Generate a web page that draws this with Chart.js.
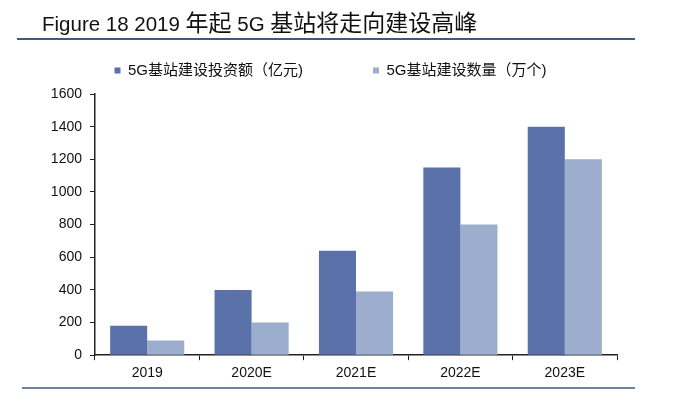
<!DOCTYPE html>
<html>
<head>
<meta charset="utf-8">
<script src="https://cdn.jsdelivr.net/npm/chart.js@4/dist/chart.umd.min.js"></script>
<style>
  html, body { margin: 0; padding: 0; background: #fff; }
  #wrap { position: relative; width: 678px; height: 398px; }
</style>
</head>
<body>
<div id="wrap"><canvas id="myChart" width="678" height="398"></canvas></div>
<script>
// title pieces: latin runs and cjk runs get slightly different sizes like the original
const titleParts = ["Figure 18 2019 ", "年起", " 5G ", "基站将走向建设高峰"];
const years = ["2019", "2020E", "2021E", "2022E", "2023E"];
const investment = [180, 400, 640, 1150, 1400];
const stations = [90, 200, 390, 800, 1200];
const seriesNames = ["5G基站建设投资额（亿元)", "5G基站建设数量（万个)"];

const fontFamily = "'Liberation Sans', Arial, 'Noto Sans CJK SC', sans-serif";

// title + the two blue rules
const frame = {
  id: "frame",
  afterDraw(chart) {
    const c = chart.ctx;
    c.save();
    c.fillStyle = "#111";
    c.textBaseline = "alphabetic";
    let x = 42;
    titleParts.forEach(function (part, i) {
      c.font = (i % 2 === 1 ? "23px " : "20.5px ") + fontFamily;
      c.fillText(part, x, 31);
      x += c.measureText(part).width;
    });
    c.strokeStyle = "#3e5a7e";
    c.lineWidth = 2;
    c.beginPath();
    c.moveTo(17, 39);
    c.lineTo(635, 39);
    c.stroke();
    c.lineWidth = 1.5;
    c.beginPath();
    c.moveTo(22, 388);
    c.lineTo(635, 388);
    c.stroke();
    c.restore();
  }
};

const ctx = document.getElementById("myChart");

new Chart(ctx, {
  type: "bar",
  data: {
    labels: years,
    datasets: [{
      label: seriesNames[0],
      data: investment,
      backgroundColor: "#5a72a9"
    }, {
      label: seriesNames[1],
      data: stations,
      backgroundColor: "#9dadcd"
    }]
  },
  options: {
    responsive: false,
    animation: false,
    layout: { padding: { left: 44, right: 61, top: -7, bottom: 11 } },
    categoryPercentage: 0.71,
    barPercentage: 1,
    plugins: {
      tooltip: { enabled: false },
      // empty spacer between legend and plot
      subtitle: {
        display: true,
        text: "",
        weight: 500,
        padding: 0,
        font: { size: 6, lineHeight: 1 }
      },
      legend: {
        labels: {
          boxWidth: 6,
          boxHeight: 6,
          padding: 70,
          color: "#111",
          font: { size: 15, family: fontFamily }
        }
      }
    },
    scales: {
      x: {
        grid: { display: true, drawOnChartArea: false, offset: true, tickLength: 5, color: "#222" },
        border: { color: "#222", width: 1.5 },
        ticks: { color: "#111", font: { size: 14, family: fontFamily }, padding: 5 }
      },
      y: {
        min: 0,
        max: 1600,
        afterFit(scale) { scale.width = 51; },
        grid: { display: true, drawOnChartArea: false, tickLength: 5, color: "#222" },
        border: { color: "#222", width: 1.5 },
        ticks: {
          stepSize: 200,
          color: "#111",
          font: { size: 14, family: fontFamily },
          padding: 8,
          callback: function (v) { return String(v); }
        }
      }
    }
  },
  plugins: [frame]
});
</script>
</body>
</html>
